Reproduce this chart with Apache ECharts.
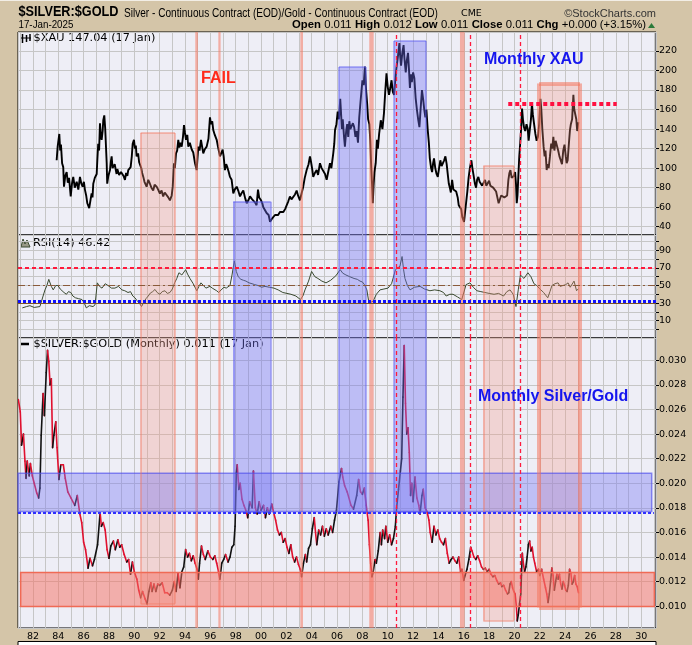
<!DOCTYPE html>
<html><head><meta charset="utf-8">
<script src="https://cdn.jsdelivr.net/npm/echarts@6/dist/echarts.min.js"></script>
<style>html,body{margin:0;padding:0;background:#d4c5a8}#c{width:692px;height:645px}</style>
</head><body><div id="c"></div>
<script>
// ---------------- DATA ----------------
const xauYear = [1983.87,1983.95,1984.08,1984.15,1984.21,1984.3,1984.39,1984.45,1984.55,1984.66,1984.75,1984.85,1984.98,1985.08,1985.18,1985.3,1985.45,1985.58,1985.71,1985.82,1985.92,1986.02,1986.1,1986.2,1986.29,1986.38,1986.44,1986.55,1986.63,1986.7,1986.76,1986.88,1987.03,1987.08,1987.15,1987.22,1987.29,1987.36,1987.42,1987.5,1987.55,1987.63,1987.7,1987.76,1987.82,1987.86,1987.95,1988.08,1988.15,1988.21,1988.28,1988.34,1988.45,1988.6,1988.66,1988.73,1988.8,1988.87,1988.95,1989.08,1989.15,1989.26,1989.35,1989.45,1989.52,1989.62,1989.71,1989.8,1989.87,1989.97,1990.05,1990.12,1990.18,1990.3,1990.38,1990.45,1990.55,1990.62,1990.71,1990.8,1990.9,1990.97,1991.1,1991.23,1991.35,1991.49,1991.6,1991.76,1991.88,1992.02,1992.15,1992.28,1992.4,1992.55,1992.68,1992.81,1992.95,1993.03,1993.13,1993.2,1993.29,1993.38,1993.47,1993.55,1993.63,1993.74,1993.84,1993.92,1994.0,1994.08,1994.18,1994.26,1994.38,1994.53,1994.65,1994.79,1994.92,1995.05,1995.15,1995.26,1995.35,1995.44,1995.55,1995.71,1995.85,1995.97,1996.05,1996.15,1996.23,1996.35,1996.5,1996.6,1996.76,1996.87,1996.97,1997.05,1997.15,1997.25,1997.34,1997.45,1997.55,1997.68,1997.81,1997.92,1998.08,1998.2,1998.34,1998.45,1998.6,1998.75,1998.87,1999.0,1999.13,1999.3,1999.52,1999.65,1999.76,1999.85,2000.0,2000.1,2000.18,2000.3,2000.44,2000.6,2000.71,2000.85,2000.97,2001.1,2001.23,2001.35,2001.49,2001.6,2001.76,2001.9,2002.02,2002.15,2002.28,2002.4,2002.55,2002.68,2002.81,2002.92,2003.07,2003.2,2003.33,2003.45,2003.6,2003.75,2003.86,2003.95,2004.05,2004.12,2004.25,2004.39,2004.5,2004.65,2004.78,2004.91,2005.05,2005.18,2005.3,2005.44,2005.55,2005.7,2005.78,2005.84,2005.95,2006.05,2006.15,2006.25,2006.3,2006.38,2006.45,2006.55,2006.62,2006.72,2006.8,2006.88,2006.97,2007.05,2007.15,2007.25,2007.35,2007.45,2007.55,2007.65,2007.75,2007.85,2007.92,2008.0,2008.1,2008.2,2008.28,2008.38,2008.45,2008.55,2008.62,2008.7,2008.78,2008.82,2008.88,2008.95,2009.05,2009.15,2009.22,2009.32,2009.45,2009.58,2009.7,2009.8,2009.9,2010.0,2010.1,2010.2,2010.3,2010.4,2010.5,2010.58,2010.68,2010.8,2010.92,2010.98,2011.05,2011.15,2011.25,2011.32,2011.42,2011.5,2011.6,2011.68,2011.75,2011.82,2011.9,2012.0,2012.1,2012.2,2012.3,2012.4,2012.5,2012.6,2012.7,2012.8,2012.88,2012.97,2013.05,2013.15,2013.25,2013.32,2013.42,2013.5,2013.58,2013.65,2013.75,2013.85,2013.95,2014.05,2014.15,2014.25,2014.35,2014.45,2014.55,2014.65,2014.75,2014.82,2014.9,2014.98,2015.08,2015.18,2015.3,2015.4,2015.52,2015.6,2015.7,2015.8,2015.88,2015.95,2016.02,2016.1,2016.18,2016.28,2016.38,2016.48,2016.6,2016.68,2016.78,2016.88,2016.97,2017.05,2017.15,2017.25,2017.35,2017.45,2017.55,2017.68,2017.78,2017.9,2018.0,2018.1,2018.2,2018.32,2018.45,2018.55,2018.65,2018.75,2018.85,2018.95,2019.08,2019.2,2019.32,2019.42,2019.52,2019.6,2019.68,2019.78,2019.87,2019.95,2020.05,2020.12,2020.18,2020.24,2020.3,2020.38,2020.45,2020.52,2020.6,2020.67,2020.75,2020.85,2020.95,2021.05,2021.12,2021.2,2021.3,2021.38,2021.45,2021.55,2021.65,2021.75,2021.85,2021.95,2022.05,2022.12,2022.2,2022.3,2022.38,2022.45,2022.54,2022.62,2022.7,2022.8,2022.9,2022.98,2023.07,2023.15,2023.25,2023.35,2023.45,2023.55,2023.65,2023.75,2023.85,2023.95,2024.05,2024.12,2024.2,2024.3,2024.38,2024.45,2024.55,2024.65,2024.72,2024.8,2024.88,2024.95,2025.04];
const xauValue = [108,122,135,118,124,105,101,81,92,96,85,90,71,84,91,80,86,78,91,84,81,86,78,72,64,66,59,68,74,70,84,90,94,108,125,118,146,132,129,138,149,154,141,139,105,84,92,98,107,112,100,98,104,94,99,101,93,91,96,98,92,88,95,92,98,96,101,112,125,129,120,123,112,115,106,108,100,95,91,86,84,81,88,84,80,77,83,81,78,74,77,71,75,74,70,67,72,81,105,100,115,118,129,121,126,122,132,144,136,129,134,122,126,119,116,105,98,122,118,129,122,115,119,122,130,152,145,148,139,134,129,122,112,114,119,112,98,104,101,96,91,88,74,78,81,77,71,74,77,69,64,67,71,68,65,62,78,70,67,64,60,58,54,52,45,48,50,52,54,52,55,56,55,58,60,66,71,68,67,73,77,72,67,74,81,90,98,104,112,106,98,91,95,98,93,105,100,98,94,88,96,105,100,115,125,139,145,158,150,171,160,140,150,132,122,138,145,132,148,140,138,146,142,132,138,126,152,168,178,190,185,204,182,165,150,145,128,100,78,64,82,96,105,129,120,135,149,140,156,178,197,183,175,182,190,178,175,188,202,214,228,215,205,218,226,212,198,210,218,200,182,196,188,198,192,172,160,150,142,162,180,170,160,152,160,140,125,110,100,96,105,110,100,94,91,100,108,102,101,108,112,104,92,84,80,75,88,78,80,76,70,62,60,58,50,48,45,55,64,76,90,100,108,100,92,84,80,88,91,86,85,82,84,88,82,84,87,82,84,80,82,76,70,64,66,72,74,70,68,72,88,95,98,90,88,92,96,84,64,72,90,112,125,139,161,150,142,138,145,140,128,138,150,166,155,145,135,128,132,145,171,160,140,122,112,118,98,104,100,112,125,120,132,118,128,130,118,112,108,104,118,124,112,105,108,126,139,145,150,175,160,162,150,138,147];

const ratioYear = [1980.85,1981.0,1981.1,1981.25,1981.37,1981.45,1981.55,1981.7,1981.8,1981.95,1982.1,1982.3,1982.45,1982.55,1982.65,1982.8,1982.9,1983.05,1983.15,1983.25,1983.35,1983.45,1983.55,1983.65,1983.8,1983.9,1984.05,1984.2,1984.4,1984.55,1984.75,1985.0,1985.3,1985.5,1985.7,1985.85,1986.0,1986.15,1986.35,1986.5,1986.7,1986.85,1987.1,1987.3,1987.4,1987.55,1987.7,1987.85,1988.0,1988.15,1988.35,1988.5,1988.7,1988.85,1989.0,1989.2,1989.4,1989.55,1989.7,1989.85,1990.0,1990.2,1990.35,1990.5,1990.65,1990.85,1991.0,1991.15,1991.3,1991.4,1991.55,1991.7,1991.85,1992.0,1992.2,1992.4,1992.6,1992.8,1993.0,1993.15,1993.3,1993.45,1993.6,1993.75,1993.9,1994.05,1994.2,1994.35,1994.5,1994.65,1994.8,1994.95,1995.05,1995.15,1995.3,1995.45,1995.6,1995.8,1996.0,1996.2,1996.35,1996.5,1996.65,1996.75,1996.9,1997.05,1997.2,1997.4,1997.55,1997.7,1997.85,1997.95,1998.05,1998.12,1998.25,1998.35,1998.5,1998.65,1998.8,1998.95,1999.1,1999.3,1999.4,1999.55,1999.7,1999.85,2000.0,2000.2,2000.35,2000.5,2000.65,2000.85,2001.0,2001.15,2001.3,2001.45,2001.6,2001.75,2001.9,2002.05,2002.2,2002.35,2002.5,2002.65,2002.8,2002.95,2003.1,2003.2,2003.35,2003.5,2003.6,2003.75,2003.9,2004.05,2004.2,2004.3,2004.4,2004.55,2004.7,2004.85,2005.0,2005.15,2005.3,2005.5,2005.65,2005.8,2005.95,2006.15,2006.35,2006.45,2006.6,2006.8,2007.1,2007.3,2007.55,2007.7,2007.85,2008.0,2008.15,2008.3,2008.45,2008.55,2008.65,2008.75,2008.85,2009.0,2009.1,2009.25,2009.4,2009.5,2009.6,2009.75,2009.85,2010.0,2010.15,2010.3,2010.45,2010.6,2010.7,2010.85,2011.0,2011.1,2011.2,2011.3,2011.4,2011.5,2011.6,2011.7,2011.8,2011.9,2012.0,2012.15,2012.3,2012.45,2012.55,2012.7,2012.8,2012.95,2013.1,2013.25,2013.35,2013.5,2013.65,2013.8,2013.95,2014.1,2014.25,2014.4,2014.55,2014.7,2014.85,2015.0,2015.15,2015.3,2015.45,2015.6,2015.75,2015.85,2016.0,2016.1,2016.25,2016.4,2016.55,2016.65,2016.8,2016.95,2017.1,2017.25,2017.4,2017.55,2017.7,2017.85,2018.0,2018.15,2018.3,2018.45,2018.6,2018.75,2018.9,2019.0,2019.15,2019.3,2019.45,2019.55,2019.65,2019.75,2019.85,2019.95,2020.05,2020.15,2020.22,2020.3,2020.4,2020.5,2020.55,2020.62,2020.7,2020.8,2020.9,2021.0,2021.1,2021.2,2021.3,2021.4,2021.5,2021.6,2021.75,2021.9,2022.0,2022.15,2022.3,2022.45,2022.55,2022.65,2022.75,2022.85,2022.95,2023.05,2023.15,2023.25,2023.35,2023.45,2023.55,2023.65,2023.75,2023.85,2023.95,2024.05,2024.15,2024.25,2024.35,2024.45,2024.55,2024.65,2024.75,2024.85,2024.95,2025.05];
const ratioValue = [0.0268,0.0258,0.0231,0.0240,0.0218,0.0204,0.0218,0.0206,0.0216,0.0206,0.0200,0.0192,0.0188,0.0196,0.0239,0.0273,0.0255,0.0290,0.0308,0.0299,0.0280,0.0285,0.0229,0.0239,0.0250,0.0229,0.0203,0.0215,0.0215,0.0204,0.0193,0.0188,0.0182,0.0190,0.0175,0.0168,0.0152,0.0146,0.0131,0.0139,0.0133,0.0138,0.0150,0.0176,0.0165,0.0168,0.0162,0.0146,0.0139,0.0149,0.0153,0.0146,0.0154,0.0148,0.0150,0.0142,0.0136,0.0138,0.0126,0.0136,0.0128,0.0122,0.0113,0.0107,0.0112,0.0106,0.0102,0.0112,0.0119,0.0112,0.0118,0.0112,0.0118,0.0117,0.0119,0.0111,0.0111,0.0109,0.0113,0.0120,0.0112,0.0127,0.0115,0.0128,0.0132,0.0146,0.0140,0.0143,0.0137,0.0141,0.0135,0.0130,0.0122,0.0135,0.0149,0.0142,0.0138,0.0145,0.0140,0.0138,0.0141,0.0135,0.0128,0.0122,0.0135,0.0138,0.0142,0.0136,0.0140,0.0148,0.0150,0.0165,0.0208,0.0215,0.0195,0.0200,0.0187,0.0182,0.0178,0.0172,0.0185,0.0180,0.0210,0.0180,0.0175,0.0185,0.0178,0.0182,0.0172,0.0180,0.0175,0.0183,0.0176,0.0170,0.0162,0.0158,0.0160,0.0152,0.0155,0.0148,0.0143,0.0150,0.0140,0.0136,0.0140,0.0134,0.0130,0.0124,0.0135,0.0142,0.0136,0.0147,0.0150,0.0163,0.0172,0.0160,0.0150,0.0162,0.0158,0.0165,0.0157,0.0163,0.0158,0.0165,0.0160,0.0170,0.0178,0.0201,0.0212,0.0205,0.0198,0.0193,0.0182,0.0179,0.0190,0.0203,0.0193,0.0191,0.0196,0.0182,0.0170,0.0150,0.0135,0.0124,0.0128,0.0138,0.0135,0.0145,0.0160,0.0150,0.0162,0.0155,0.0165,0.0152,0.0158,0.0150,0.0155,0.0165,0.0180,0.0195,0.0210,0.0220,0.0270,0.0312,0.0265,0.0240,0.0245,0.0225,0.0190,0.0200,0.0185,0.0205,0.0188,0.0182,0.0175,0.0190,0.0195,0.0180,0.0177,0.0170,0.0160,0.0152,0.0165,0.0158,0.0162,0.0155,0.0152,0.0150,0.0155,0.0143,0.0135,0.0138,0.0140,0.0137,0.0135,0.0140,0.0128,0.0130,0.0121,0.0125,0.0130,0.0138,0.0148,0.0145,0.0140,0.0138,0.0141,0.0137,0.0132,0.0130,0.0131,0.0128,0.0130,0.0126,0.0124,0.0125,0.0121,0.0118,0.0119,0.0116,0.0117,0.0113,0.0110,0.0111,0.0118,0.0120,0.0115,0.0112,0.0110,0.0100,0.0088,0.0093,0.0102,0.0110,0.0125,0.0143,0.0135,0.0128,0.0132,0.0140,0.0150,0.0153,0.0145,0.0148,0.0140,0.0135,0.0128,0.0130,0.0125,0.0130,0.0122,0.0115,0.0110,0.0103,0.0110,0.0120,0.0131,0.0125,0.0113,0.0120,0.0126,0.0122,0.0126,0.0118,0.0114,0.0120,0.0117,0.0113,0.0112,0.0117,0.0130,0.0127,0.0118,0.0120,0.0125,0.0118,0.0116,0.0111];

const rsiYear = [1981.16,1981.5,1981.76,1982.1,1982.55,1982.8,1982.95,1983.1,1983.25,1983.45,1983.6,1983.8,1983.97,1984.15,1984.29,1984.45,1984.64,1984.8,1984.99,1985.15,1985.35,1985.6,1985.87,1986.05,1986.21,1986.45,1986.74,1986.9,1987.08,1987.25,1987.45,1987.7,1987.92,1988.2,1988.47,1988.75,1989.02,1989.25,1989.5,1989.7,1989.88,1990.05,1990.2,1990.4,1990.57,1990.75,1990.92,1991.1,1991.27,1991.45,1991.63,1991.8,1992.02,1992.2,1992.42,1992.6,1992.81,1993.0,1993.18,1993.35,1993.52,1993.75,1994.05,1994.2,1994.39,1994.65,1994.93,1995.1,1995.26,1995.45,1995.65,1995.8,1995.97,1996.15,1996.29,1996.5,1996.66,1996.85,1997.08,1997.25,1997.39,1997.55,1997.71,1997.89,1998.05,1998.2,1998.41,1998.6,1998.81,1999.05,1999.29,1999.5,1999.76,2000.05,2000.31,2000.65,2001.02,2001.35,2001.72,2002.05,2002.36,2002.75,2003.11,2003.3,2003.47,2003.75,2003.99,2004.25,2004.49,2004.8,2005.13,2005.5,2005.9,2006.25,2006.45,2006.7,2007.0,2007.34,2007.6,2007.81,2008.0,2008.16,2008.35,2008.52,2008.84,2009.1,2009.39,2009.7,2010.02,2010.3,2010.61,2010.96,2011.13,2011.25,2011.36,2011.55,2011.76,2012.1,2012.55,2012.9,2013.33,2013.7,2014.12,2014.4,2014.61,2014.9,2015.15,2015.5,2015.84,2016.18,2016.49,2016.75,2017.04,2017.35,2017.67,2018.0,2018.39,2018.75,2019.14,2019.4,2019.65,2019.9,2020.12,2020.3,2020.47,2020.75,2021.06,2021.3,2021.54,2021.75,2021.94,2022.3,2022.63,2022.8,2022.96,2023.2,2023.44,2023.6,2023.83,2024.05,2024.23,2024.4,2024.54,2024.7,2024.9,2025.05];
const rsiValue = [24.5,26,27,25,26,38,45,50,57,49,45,50,50,46,44,42,40,43,42,38,36,35,34,30,24.5,27,26,28,53,49,47,52,50,47,47,49,45,44,42,43,38,36,33,30,26,31,35,38,41.5,43,45.5,42,40,43,44,41,42,46,53,58,64.5,62,68,63,58,52,44,49,53,50,47,48,49,47,46,44,42,45,48,47,46,50,62,78,66,60,57,56,55,53,52,51,50,48,49,48,47,45,42,41,40,38,34,38,45,55,66,60,58,55,53,56,61,68,64,62,60,58,57,55,54,51,45,30,32,40,45,46,47,52,68,72,83,68,58,50,45,48,49,46,44,45,44,42,38,40,40,37,34,51,53,48,44,43,42,41,40,41,38,43,45,40,26,45,62,58,64.5,60,52,50,47,42,36,43,50,52,53,49,50,51,53,48,49,55,44,46.4];

const xTickYears = [1982,1984,1986,1988,1990,1992,1994,1996,1998,2000,2002,2004,2006,2008,2010,2012,2014,2016,2018,2020,2022,2024,2026,2028,2030];
const xTickLabels = ['82','84','86','88','90','92','94','96','98','00','02','04','06','08','10','12','14','16','18','20','22','24','26','28','30'];
const xauTickValues = [40,60,80,100,120,140,160,180,200,220];
const xauTickLabels = ['40','60','80','100','120','140','160','180','200','220'];
const rsiTickValues = [10,30,50,70,90];
const rsiTickLabels = ['10','30','50','70','90'];
const ratioTickValues = [0.010,0.012,0.014,0.016,0.018,0.020,0.022,0.024,0.026,0.028,0.030];
const ratioTickLabels = ['0.010','0.012','0.014','0.016','0.018','0.020','0.022','0.024','0.026','0.028','0.030'];

// annotation boxes (data units)
const boxFrom   = [1990.50, 1997.81, 2006.15, 2010.49, 2017.54, 2021.94];
const boxTo     = [1993.21, 2000.76, 2008.28, 2013.02, 2019.96, 2025.17];
const boxXauTop = [136, 65.6, 203.6, 230.2, 102, 186.7];
const boxRatioBottom = [0.0102, 0.01765, 0.01765, 0.01765, 0.00883, 0.0099];
const boxKind   = ['pink','blue','blue','blue','pink','pinkThick'];
const barFrom = [1994.81, 1996.63, 2003.10, 2008.54, 2015.70];
const barTo   = [1995.02, 1996.81, 2003.31, 2008.89, 2016.07];
const dashedYears = [2010.65, 2016.49, 2020.45];
const resistance = {from: 2019.51, to: 2028.07, value: 165.5};

// ---------------- LAYOUT ----------------
const X_MIN = 1980.82, X_MAX = 2031.17;
const Y0 = {min: 31.5, max: 239.4}, Y1 = {min: -9.8, max: 107.5}, Y2 = {min: 0.00823, max: 0.03181};
const GL = 18, GW = 638;
const FONT = '"DejaVu Sans", Verdana, sans-serif';
const ARIAL = '"Liberation Sans", Arial, sans-serif';
const GRID = '#c6c6c6';

function near(v, arr, eps) { for (let i = 0; i < arr.length; i++) if (Math.abs(v - arr[i]) < eps) return i; return -1; }
const xFmt = v => { const i = near(v, xTickYears, 1e-6); return i >= 0 ? xTickLabels[i] : ''; };
const y0Fmt = v => { const i = near(v, xauTickValues, 1e-6); return i >= 0 ? xauTickLabels[i] : ''; };
const y1Fmt = v => { const i = near(v, rsiTickValues, 1e-6); return i >= 0 ? rsiTickLabels[i] : ''; };
const y2Fmt = v => { const i = near(v, ratioTickValues, 1e-7); return i >= 0 ? ratioTickLabels[i] : ''; };

function xAxis(gi, labels) {
  return {type: 'value', gridIndex: gi, min: X_MIN, max: X_MAX, minInterval: 1, maxInterval: 1, splitNumber: 50,
    axisLine: {show: false}, axisTick: {show: false},
    axisLabel: {show: labels, formatter: xFmt, color: '#000', fontSize: 9.5, fontFamily: FONT, margin: 4, showMinLabel: false, showMaxLabel: false},
    splitLine: {show: true, lineStyle: {color: GRID, width: 1}}};
}
function yAxis(gi, ext, iv, fmt) {
  return {type: 'value', gridIndex: gi, position: 'right', min: ext.min, max: ext.max, minInterval: iv, maxInterval: iv, splitNumber: 20,
    axisLine: {show: false}, axisTick: {show: true, length: 3, lineStyle: {color: '#000'}},
    axisLabel: {formatter: fmt, color: '#000', fontSize: 9.5, fontFamily: FONT, margin: 3, showMinLabel: false, showMaxLabel: false},
    splitLine: {show: true, lineStyle: {color: GRID, width: 1}}};
}

const FILL = {pink: 'rgba(246,150,128,0.30)', pinkThick: 'rgba(246,150,128,0.30)', blue: 'rgba(110,110,245,0.38)'};
const EDGE = {pink: {color: 'rgba(244,120,96,0.55)', width: 1.5, type: 'solid'},
              pinkThick: {color: 'rgba(244,120,96,0.55)', width: 4, type: 'solid'},
              blue: {color: 'rgba(90,90,240,0.55)', width: 1.5, type: 'solid'}};
const BAR = {color: 'rgba(246,120,96,0.55)', borderWidth: 0};

function panelRange(panel, i) {
  if (panel === 0) return [boxXauTop[i], Y0.min];
  if (panel === 1) return [Y1.max, Y1.min];
  return [Y2.max, boxRatioBottom[i]];
}
function boxAreas(panel) {
  const out = [];
  for (let i = 0; i < boxFrom.length; i++) {
    const r = panelRange(panel, i);
    out.push([{xAxis: boxFrom[i], yAxis: r[0], itemStyle: {color: FILL[boxKind[i]], borderWidth: 0}}, {xAxis: boxTo[i], yAxis: r[1]}]);
  }
  for (let i = 0; i < barFrom.length; i++) out.push([{xAxis: barFrom[i], itemStyle: BAR}, {xAxis: barTo[i]}]);
  return out;
}
function boxEdges(panel) {
  const out = [];
  for (let i = 0; i < boxFrom.length; i++) {
    const r = panelRange(panel, i), ls = EDGE[boxKind[i]];
    out.push([{coord: [boxFrom[i], r[0]], lineStyle: ls}, {coord: [boxFrom[i], r[1]]}]);
    out.push([{coord: [boxTo[i], r[0]], lineStyle: ls}, {coord: [boxTo[i], r[1]]}]);
    if (panel === 0) out.push([{coord: [boxFrom[i], r[0]], lineStyle: ls}, {coord: [boxTo[i], r[0]]}]);
    if (panel === 2) out.push([{coord: [boxFrom[i], r[1]], lineStyle: ls}, {coord: [boxTo[i], r[1]]}]);
  }
  return out;
}
const vDashedStyle = {color: '#ff1a3c', width: 1.3, type: [4, 3]};

function overlay(gi, extraAreas, extraLines) {
  return {type: 'line', xAxisIndex: gi, yAxisIndex: gi, data: [], silent: true, z: 3,
    markArea: {silent: true, z: 3, data: boxAreas(gi).concat(extraAreas || [])},
    markLine: {silent: true, z: 4, symbol: ['none', 'none'], label: {show: false},
      data: boxEdges(gi).concat(dashedYears.map(y => ({xAxis: y, lineStyle: vDashedStyle}))).concat(extraLines || [])}};
}

const option = {
  animation: false,
  backgroundColor: '#d4c5a8',
  grid: [
    {left: GL, top: 32, width: GW, height: 203, show: true, backgroundColor: '#eeeef6', borderColor: '#000', borderWidth: 1},
    {left: GL, top: 235, width: GW, height: 103, show: true, backgroundColor: '#eeeef6', borderColor: '#000', borderWidth: 1},
    {left: GL, top: 338, width: GW, height: 290, show: true, backgroundColor: '#eeeef6', borderColor: '#000', borderWidth: 1}
  ],
  xAxis: [xAxis(0, false), xAxis(1, false), xAxis(2, true)],
  yAxis: [yAxis(0, Y0, 20, y0Fmt), yAxis(1, Y1, 10, y1Fmt), yAxis(2, Y2, 0.002, y2Fmt)],
  series: [
    {type: 'line', xAxisIndex: 0, yAxisIndex: 0, showSymbol: false, symbol: 'none', z: 2,
      lineStyle: {color: '#000', width: 1.9}, data: xauYear.map((y, i) => [y, xauValue[i]])},
    {type: 'line', xAxisIndex: 1, yAxisIndex: 1, showSymbol: false, symbol: 'none', z: 2,
      lineStyle: {color: '#3a4a30', width: 1}, data: rsiYear.map((y, i) => [y, rsiValue[i]])},
    {type: 'custom', xAxisIndex: 2, yAxisIndex: 2, z: 2, clip: true, encode: {x: 0, y: 1},
      data: ratioYear.map((y, i) => [y, ratioValue[i]]),
      renderItem: (params, api) => {
        const i = params.dataIndex;
        if (i === 0) return null;
        const p0 = api.coord([ratioYear[i - 1], ratioValue[i - 1]]);
        const p1 = api.coord([api.value(0), api.value(1)]);
        const up = ratioValue[i] > ratioValue[i - 1];
        return {type: 'line', shape: {x1: p0[0], y1: p0[1], x2: p1[0], y2: p1[1]},
          style: {stroke: up ? '#111' : '#e0102e', lineWidth: 1.6, lineCap: 'round'}};
      }},
    overlay(0, [], [[{coord: [resistance.from, resistance.value], lineStyle: {color: '#ff1040', width: 4, type: [4, 3]}}, {coord: [resistance.to, resistance.value]}]]),
    overlay(1, [], [
      {yAxis: 70, lineStyle: {color: '#ff1a3c', width: 2, type: [4, 3]}},
      {yAxis: 50, lineStyle: {color: '#8a5a3a', width: 1, type: [7, 3, 2, 3]}},
      {yAxis: 30, lineStyle: {color: '#7a5028', width: 1.2, type: 'solid'}},
      {yAxis: 31.6, lineStyle: {color: '#1010ff', width: 3, type: [3, 2]}}
    ]),
    overlay(2, [
      [{xAxis: 1980.45, yAxis: 0.02081, itemStyle: {color: 'rgba(120,120,245,0.40)', borderColor: 'rgba(80,80,235,0.65)', borderWidth: 1.5}}, {xAxis: 2030.83, yAxis: 0.0177}],
      [{xAxis: 1981.03, yAxis: 0.01275, itemStyle: {color: 'rgba(246,110,95,0.50)', borderColor: '#f06a55', borderWidth: 1.5}}, {xAxis: 2031.04, yAxis: 0.00998}]
    ], [[{coord: [1980.82, 0.01758], lineStyle: {color: '#3030ff', width: 2, type: [3, 2]}}, {coord: [2031.0, 0.01758]}]])
  ],
  graphic: [
    {type: 'rect', shape: {x: 0, y: 0, width: 692, height: 1}, style: {fill: '#f2eee6'}},
    {type: 'text', x: 18.5, y: 20, scaleX: 0.82, style: {x: 0, y: 0, text: '$SILVER:$GOLD', font: 'bold 15.5px ' + ARIAL, fill: '#000', textVerticalAlign: 'bottom'}},
    {type: 'text', x: 124, y: 19.5, scaleX: 0.82, style: {x: 0, y: 0, text: 'Silver - Continuous Contract (EOD)/Gold - Continuous Contract (EOD)', font: '12.3px ' + ARIAL, fill: '#000', textVerticalAlign: 'bottom'}},
    {type: 'text', style: {x: 461, y: 18.5, text: 'CME', font: '9.5px ' + FONT, fill: '#000', textVerticalAlign: 'bottom'}},
    {type: 'text', style: {x: 656, y: 19, text: '\u00a9StockCharts.com', font: '11px ' + ARIAL, fill: '#333', textAlign: 'right', textVerticalAlign: 'bottom'}},
    {type: 'text', x: 18.5, y: 31, scaleX: 0.85, style: {x: 0, y: 0, text: '17-Jan-2025', font: '11.5px ' + ARIAL, fill: '#000', textVerticalAlign: 'bottom'}},
    {type: 'text', style: {x: 646, y: 31, textAlign: 'right', textVerticalAlign: 'bottom',
      text: '{b|Open} {n|0.011} {b|High} {n|0.012} {b|Low} {n|0.011} {b|Close} {n|0.011} {b|Chg} {n|+0.000 (+3.15%)}',
      rich: {b: {font: 'bold 11.3px ' + ARIAL, fill: '#000'}, n: {font: '11.3px ' + ARIAL, fill: '#000'}}}},
    {type: 'polygon', shape: {points: [[648, 28], [655, 28], [651.5, 23]]}, style: {fill: '#2a7a3a'}},
    // panel legends
    {type: 'group', children: [
      {type: 'line', shape: {x1: 22.5, y1: 34, x2: 22.5, y2: 43}, style: {stroke: '#000', lineWidth: 1.5}},
      {type: 'line', shape: {x1: 26.5, y1: 35, x2: 26.5, y2: 42}, style: {stroke: '#000', lineWidth: 1.5}},
      {type: 'line', shape: {x1: 30, y1: 34, x2: 30, y2: 41}, style: {stroke: '#000', lineWidth: 1.5}},
      {type: 'line', shape: {x1: 21, y1: 38, x2: 31, y2: 38}, style: {stroke: '#000', lineWidth: 1}}
    ]},
    {type: 'text', style: {x: 33.5, y: 38.5, text: '$XAU 147.04 (17 Jan)', font: '11.3px ' + FONT, fill: '#000', textVerticalAlign: 'middle'}},
    {type: 'polygon', shape: {points: [[21, 247], [23, 239], [25, 244], [27, 240], [30, 247]]}, style: {fill: '#9a9a88', stroke: '#3a4a30', lineWidth: 1}},
    {type: 'text', style: {x: 33, y: 243, text: 'RSI(14) 46.42', font: '11.3px ' + FONT, fill: '#000', textVerticalAlign: 'middle'}},
    {type: 'line', shape: {x1: 21, y1: 344, x2: 29, y2: 344}, style: {stroke: '#000', lineWidth: 2.5}},
    {type: 'text', style: {x: 33.5, y: 344.5, text: '$SILVER:$GOLD (Monthly) 0.011 (17 Jan)', font: '11.3px ' + FONT, fill: '#000', textVerticalAlign: 'middle'}},
    // annotations
    {type: 'text', z: 10, style: {x: 201, y: 79, text: 'FAIL', font: 'bold 16px ' + ARIAL, fill: '#ff2a1a', textVerticalAlign: 'middle'}},
    {type: 'text', z: 10, style: {x: 484, y: 60, text: 'Monthly XAU', font: 'bold 16px ' + ARIAL, fill: '#1515ee', textVerticalAlign: 'middle'}},
    {type: 'text', z: 10, style: {x: 478, y: 397, text: 'Monthly Silver/Gold', font: 'bold 16px ' + ARIAL, fill: '#1515ee', textVerticalAlign: 'middle'}},
    // next panel peeking at the bottom
    {type: 'rect', shape: {x: 18, y: 641.5, width: 638, height: 10}, style: {fill: '#ffffff', stroke: '#000', lineWidth: 1}}
  ]
};
const chart = echarts.init(document.getElementById('c'), null, {renderer: 'canvas'});
chart.setOption(option);
</script></body></html>
